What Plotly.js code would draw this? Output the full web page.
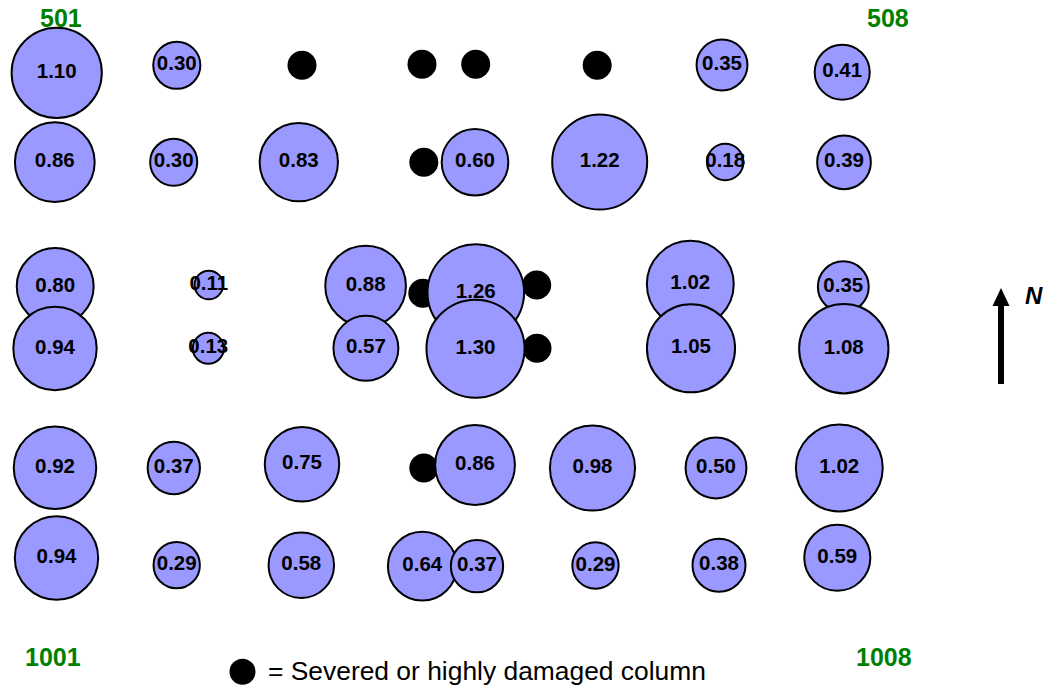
<!DOCTYPE html>
<html>
<head>
<meta charset="utf-8">
<script src="https://cdn.plot.ly/plotly-3.0.1.min.js"></script>
<style>html,body{margin:0;padding:0;background:#fff;}#chart{width:1050px;height:687px;}</style>
</head>
<body>
<div id="chart"></div>
<script>
// Column capacity values (bubble size & label), in drawing order
const values = [1.10, 0.30, 0.35, 0.41,
                0.86, 0.30, 0.83, 0.60, 1.22, 0.18, 0.39,
                0.80, 0.11, 0.88, 1.26, 1.02, 0.35,
                0.94, 0.13, 0.57, 1.30, 1.05, 1.08,
                0.92, 0.37, 0.75, 0.86, 0.98, 0.50, 1.02,
                0.94, 0.29, 0.58, 0.64, 0.37, 0.29, 0.38, 0.59];
// Plan positions of each column (east, south)
const xPos = [56.7, 176.8, 722, 842.2,
              54.8, 173.7, 298.8, 475, 599.7, 725.2, 844,
              55.2, 208.8, 365.6, 475.8, 690.3, 843.3,
              55, 208.3, 365.9, 475.5, 691, 843.8,
              55, 173.8, 302, 475, 592.5, 716, 839.3,
              56.5, 176.7, 301.3, 422.3, 477, 595.5, 719, 837.3];
const yPos = [72.8, 65.3, 65, 72.2,
              162.2, 162.2, 162.2, 162.2, 162, 162, 162.3,
              286.5, 285, 286, 292.5, 284.3, 286.7,
              348.5, 348.3, 348.3, 348.7, 348.3, 348.7,
              467.8, 468, 464.3, 465, 468, 468, 468,
              558, 565.2, 565.2, 566.2, 566.2, 565.5, 565.2, 557.8];
const rowIdx = [1,1,1,1, 2,2,2,2,2,2,2, 3,3,3,3,3,3, 4,4,4,4,4,4, 5,5,5,5,5,5,5, 6,6,6,6,6,6,6,6];

// Severed / highly damaged columns
const damagedX = [302, 422, 475.7, 597.2, 423.8, 422.8, 536.7, 537, 423.8];
const damagedY = [65.3, 64.3, 64.3, 65.3, 162.2, 293.3, 285, 348.2, 468];

// Corner grid labels
const cornerText = ['501', '508', '1001', '1008'];
const cornerX = [61.2, 888.3, 53, 884.3];
const cornerY = [18.3, 18.3, 656.7, 657];

const legendText = '= Severed or highly damaged column';
const legendX = [242.5];
const legendY = [671.7];

const FONT = 'Arial, "Liberation Sans", sans-serif';
const traces = [];

traces.push({
  type: 'scatter', mode: 'markers', x: damagedX, y: damagedY,
  marker: {size: 29, color: '#000', line: {width: 0}},
  hoverinfo: 'none', showlegend: false
});

const rows = [...new Set(rowIdx)];
rows.forEach(r => {
  const idx = rowIdx.map((v, i) => v === r ? i : -1).filter(i => i >= 0);
  const v = idx.map(i => values[i]);
  traces.push({
    type: 'scatter', mode: 'markers+text',
    x: idx.map(i => xPos[i]), y: idx.map(i => yPos[i]),
    text: v.map(d => '<b>' + d.toFixed(2) + '</b>'),
    textposition: 'middle center',
    textfont: {family: FONT, size: 20.5, color: '#000'},
    marker: {size: v, sizemode: 'area', sizeref: 2/7396, color: '#9999FF',
             line: {color: '#000', width: 2}, opacity: 1},
    hoverinfo: 'none', showlegend: false, cliponaxis: false
  });
});

traces.push({
  type: 'scatter', mode: 'markers', x: legendX, y: legendY,
  marker: {size: 26, color: '#000'}, hoverinfo: 'none', showlegend: false, cliponaxis: false
});

const annotations = cornerText.map((t, i) => ({
  x: cornerX[i], y: cornerY[i], xref: 'x', yref: 'y', text: '<b>' + t + '</b>',
  showarrow: false, xanchor: 'center', yanchor: 'middle',
  font: {family: FONT, size: 25, color: '#008000'}
}));
annotations.push({
  x: 266, y: 671, xref: 'x', yref: 'y', text: legendText, showarrow: false,
  xanchor: 'left', yanchor: 'middle', font: {family: FONT, size: 26.4, color: '#000'}
});
annotations.push({
  x: 1034, y: 295, xref: 'x', yref: 'y', text: '<b><i>N</i></b>', showarrow: false,
  xanchor: 'center', yanchor: 'middle', font: {family: FONT, size: 24, color: '#000'}
});

const layout = {
  width: 1050, height: 687,
  margin: {l: 0, r: 0, t: 0, b: 0},
  paper_bgcolor: '#fff', plot_bgcolor: '#fff',
  xaxis: {range: [0, 1050], visible: false, fixedrange: true},
  yaxis: {range: [687, 0], visible: false, fixedrange: true},
  showlegend: false,
  annotations: annotations,
  shapes: [
    {type: 'line', xref: 'x', yref: 'y', x0: 1001, x1: 1001, y0: 384, y1: 304,
     line: {color: '#000', width: 6}},
    {type: 'path', xref: 'x', yref: 'y', path: 'M 992.5 306 L 1001 288 L 1009.5 306 Z',
     fillcolor: '#000', line: {color: '#000', width: 0}}
  ]
};

Plotly.newPlot('chart', traces, layout, {displayModeBar: false, staticPlot: true});
</script>
</body>
</html>
